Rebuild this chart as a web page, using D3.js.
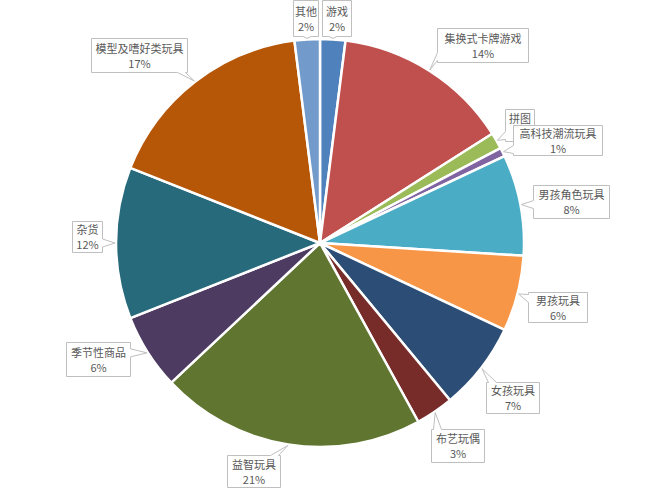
<!DOCTYPE html>
<html>
<head>
<meta charset="utf-8">
<script src="https://cdn.jsdelivr.net/npm/d3@7"></script>
<style>
	body { margin: 0; background: #fff; }
	text { font-family: "Noto Sans CJK SC", "Noto Sans", sans-serif; }
</style>
</head>
<body>
<svg></svg>
<script>
// categories clockwise from 12 o'clock
const categories = ['游戏', '集换式卡牌游戏', '拼图', '高科技潮流玩具', '男孩角色玩具', '男孩玩具',
	'女孩玩具', '布艺玩偶', '益智玩具', '季节性商品', '杂货', '模型及嗜好类玩具', '其他'];
const shares = [2, 14, 1.3, 0.7, 8, 6, 7, 3, 21, 6, 12, 17, 2];
const colors = ['#4F81BD', '#C0504D', '#9BBB59', '#8064A2', '#4BACC6', '#F79646',
	'#2C4D75', '#772C2A', '#5F7530', '#4D3B62', '#276A7C', '#B65708', '#729ACA'];
// callout boxes: x, y, w, h
const boxes = [
	[322, 0, 30, 37], [437, 28, 92, 35], [505, 109, 30, 33], [513, 125, 90, 31],
	[533, 185, 77, 34], [528, 292, 60, 31], [486, 382, 54, 32], [431, 429, 54, 34],
	[227, 455, 54, 33], [66, 342, 65, 35], [72, 221, 31, 32], [91, 38, 97, 35],
	[293, 0, 26, 37]
];
// the 拼图 percentage sits under the next box in the original, so it is not drawn
const hidePct = ['拼图'];

const width = 650, height = 496;
const cx = 320, cy = 243, radius = 204;

const svg = d3.select('svg')
	.attr('width', width)
	.attr('height', height);

const total = d3.sum(shares);
const pie = d3.pie().sort(null).value(d => d);
const arcs = pie(shares);
const arc = d3.arc().innerRadius(0).outerRadius(radius);
const tipArc = d3.arc().innerRadius(radius + 1).outerRadius(radius + 1);

const g = svg.append('g').attr('transform', `translate(${cx},${cy})`);

g.selectAll('path')
	.data(arcs)
	.enter().append('path')
		.attr('d', arc)
		.attr('fill', (d, i) => colors[i])
		.attr('stroke', '#fff')
		.attr('stroke-width', 2.5)
		.attr('stroke-linejoin', 'round');

// rectangle with a wedge pointing at (tx, ty)
function calloutPath(b, tx, ty) {
	const x0 = b[0] + 0.5, y0 = b[1] + 0.5, x1 = b[0] + b[2] - 0.5, y1 = b[1] + b[3] - 0.5;
	const ox = tx < x0 ? x0 - tx : (tx > x1 ? tx - x1 : 0);
	const oy = ty < y0 ? y0 - ty : (ty > y1 ? ty - y1 : 0);
	const w = 4;
	let pts;
	if (oy >= ox && ty > y1) {
		const m = Math.max(x0 + 6, Math.min(x1 - 6, tx));
		pts = [[x0, y0], [x1, y0], [x1, y1], [m + w, y1], [tx, ty], [m - w, y1], [x0, y1]];
	} else if (oy >= ox && ty < y0) {
		const m = Math.max(x0 + 6, Math.min(x1 - 6, tx));
		pts = [[x0, y0], [m - w, y0], [tx, ty], [m + w, y0], [x1, y0], [x1, y1], [x0, y1]];
	} else if (tx > x1) {
		const m = Math.max(y0 + 6, Math.min(y1 - 6, ty));
		pts = [[x0, y0], [x1, y0], [x1, m - w], [tx, ty], [x1, m + w], [x1, y1], [x0, y1]];
	} else {
		const m = Math.max(y0 + 6, Math.min(y1 - 6, ty));
		pts = [[x0, y0], [x1, y0], [x1, y1], [x0, y1], [x0, m + w], [tx, ty], [x0, m - w]];
	}
	return 'M' + pts.map(p => p.join(',')).join('L') + 'Z';
}

const labels = svg.append('g')
	.selectAll('g')
	.data(arcs)
	.enter().append('g');

labels.append('path')
	.attr('d', (d, i) => {
		const t = tipArc.centroid(d);
		return calloutPath(boxes[i], t[0] + cx, t[1] + cy);
	})
	.attr('fill', '#fff')
	.attr('stroke', '#bfbfbf')
	.attr('stroke-width', 1);

labels.append('text')
	.attr('x', (d, i) => boxes[i][0] + boxes[i][2] / 2)
	.attr('y', (d, i) => boxes[i][1] + boxes[i][3] / 2 - 3)
	.attr('text-anchor', 'middle')
	.attr('font-size', 11)
	.attr('fill', '#595959')
	.text((d, i) => categories[i]);

labels.filter((d, i) => !hidePct.includes(categories[i]))
	.append('text')
	.attr('x', d => boxes[d.index][0] + boxes[d.index][2] / 2)
	.attr('y', d => boxes[d.index][1] + boxes[d.index][3] / 2 + 12)
	.attr('text-anchor', 'middle')
	.attr('font-size', 11)
	.attr('fill', '#595959')
	.text(d => Math.round(d.value / total * 100) + '%');
</script>
</body>
</html>
